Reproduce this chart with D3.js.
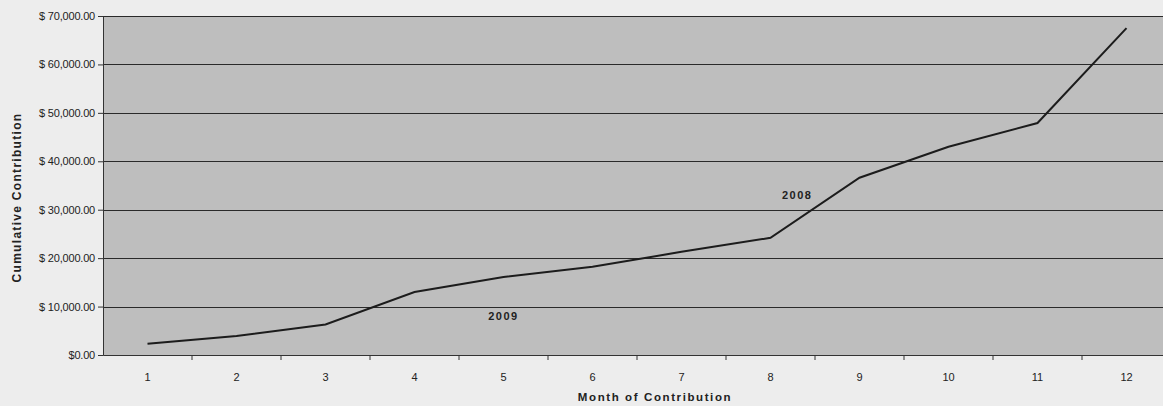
<!DOCTYPE html>
<html>
<head>
<meta charset="utf-8">
<script src="https://cdn.jsdelivr.net/npm/d3@7"></script>
<style>
  html, body { margin: 0; padding: 0; background: #ededed; }
  svg { display: block; }
  text { font-family: "Liberation Sans", Arial, sans-serif; fill: #222; }
</style>
</head>
<body>
<svg id="chart"></svg>
<script>
// months 1..12 and cumulative contribution
const months = [1, 2, 3, 4, 5, 6, 7, 8, 9, 10, 11, 12];
const cumulative = [2300, 3900, 6300, 13000, 16100, 18200, 21300, 24200, 36600, 43000, 47900, 67500];
const yTicks = [0, 10000, 20000, 30000, 40000, 50000, 60000, 70000];
const notes = [
  { text: "2009", month: 5, value: 7300 },
  { text: "2008", month: 8.3, value: 32200 }
];

const width = 1163;
const height = 406;
const margin = { top: 16, right: -8, bottom: 51, left: 103 };

const svg = d3.select("#chart").attr("width", width).attr("height", height);

const x = d3.scaleBand()
  .domain(months)
  .range([margin.left, width - margin.right])
  .padding(0);

const y = d3.scaleLinear()
  .domain([0, 70000])
  .range([height - margin.bottom, margin.top]);

// plot area, printed grey
svg.append("rect")
  .attr("x", margin.left)
  .attr("y", margin.top)
  .attr("width", width - margin.right - margin.left)
  .attr("height", y(0) - margin.top)
  .attr("fill", "#bebebe");

// gridlines
svg.append("g")
  .selectAll("line")
  .data(yTicks.filter(d => d > 0))
  .join("line")
  .attr("x1", margin.left)
  .attr("x2", width - margin.right)
  .attr("y1", d => Math.round(y(d)) + 0.5)
  .attr("y2", d => Math.round(y(d)) + 0.5)
  .attr("stroke", "#2a2a2a")
  .attr("stroke-width", 1);

const money = d => d === 0 ? "$0.00" : "$ " + d3.format(",.2f")(d);

const yAxis = svg.append("g")
  .attr("transform", `translate(${margin.left},0)`)
  .call(d3.axisLeft(y).tickValues(yTicks).tickFormat(money).tickSize(5).tickPadding(3));
yAxis.select(".domain").attr("stroke", "#333");
yAxis.selectAll(".tick line").attr("stroke", "#333");
yAxis.selectAll("text").attr("font-size", 11).attr("fill", "#222")
  .style("letter-spacing", "-0.2px");

const xAxis = svg.append("g")
  .attr("transform", `translate(0,${y(0)})`)
  .call(d3.axisBottom(x).tickSize(0).tickPadding(18));
xAxis.select(".domain").attr("stroke", "#333");
xAxis.selectAll("text").attr("font-size", 11).attr("fill", "#222");

// tick marks sit between categories
svg.append("g")
  .selectAll("line")
  .data(months.slice(1))
  .join("line")
  .attr("x1", d => x(d))
  .attr("x2", d => x(d))
  .attr("y1", y(0))
  .attr("y2", y(0) + 5)
  .attr("stroke", "#333");

const line = d3.line()
  .x((d, i) => x(months[i]) + x.bandwidth() / 2)
  .y(d => y(d));

svg.append("path")
  .datum(cumulative)
  .attr("d", line)
  .attr("fill", "none")
  .attr("stroke", "#1c1c1c")
  .attr("stroke-width", 2);

svg.append("g")
  .selectAll("text")
  .data(notes)
  .join("text")
  .attr("x", d => x(Math.floor(d.month)) + x.bandwidth() * (0.5 + d.month - Math.floor(d.month)))
  .attr("y", d => y(d.value))
  .attr("text-anchor", "middle")
  .attr("font-size", 11)
  .attr("font-weight", "bold")
  .style("letter-spacing", "1.5px")
  .attr("fill", "#333")
  .text(d => d.text);

svg.append("text")
  .attr("transform", `translate(21,${(margin.top + y(0)) / 2 + 12}) rotate(-90)`)
  .attr("text-anchor", "middle")
  .attr("font-size", 12)
  .attr("font-weight", "bold")
  .style("letter-spacing", "1.3px")
  .text("Cumulative Contribution");

svg.append("text")
  .attr("x", 655)
  .attr("y", 401)
  .attr("text-anchor", "middle")
  .attr("font-size", 11.5)
  .attr("font-weight", "bold")
  .style("letter-spacing", "1.6px")
  .text("Month of Contribution");
</script>
</body>
</html>
